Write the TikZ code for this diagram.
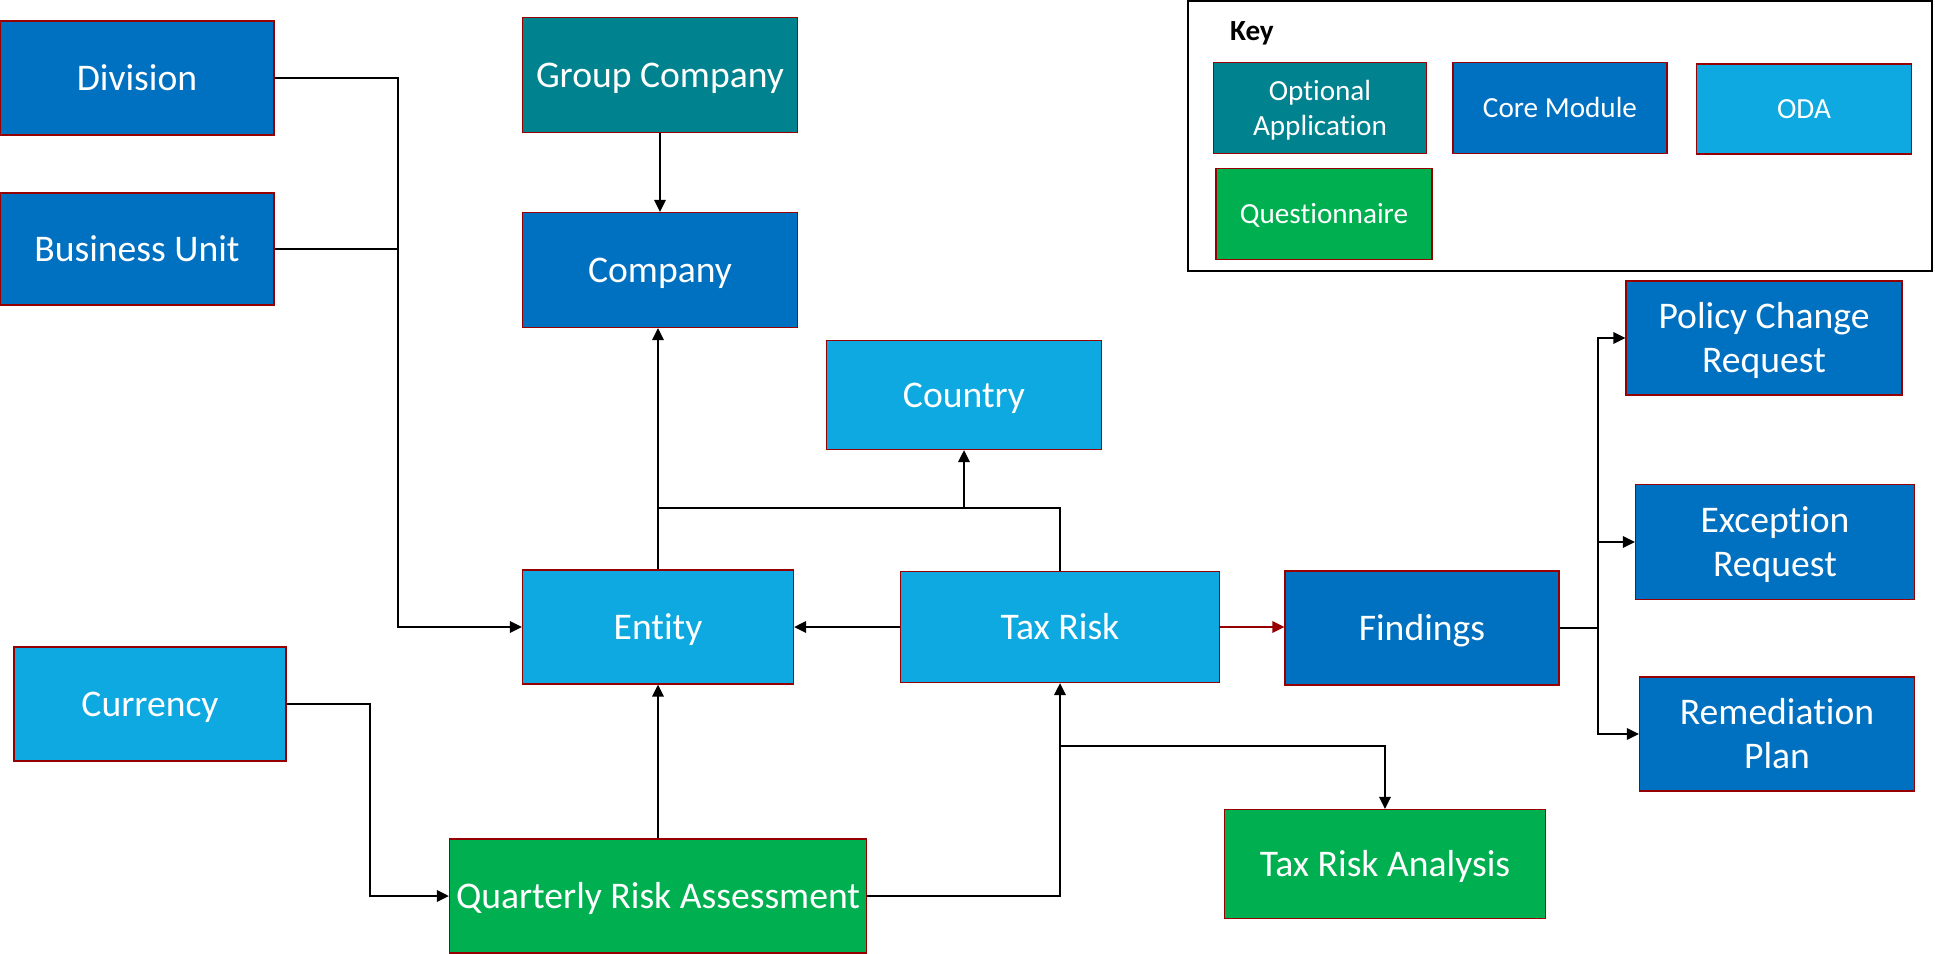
\documentclass[tikz,border=0pt]{standalone}
\usepackage{fontspec}
\setmainfont{Carlito}[Ligatures=NoCommon]
\usetikzlibrary{arrows.meta}
\definecolor{coreblue}{RGB}{0,112,192}
\definecolor{odablue}{RGB}{14,169,224}
\definecolor{optteal}{RGB}{0,130,143}
\definecolor{qgreen}{RGB}{0,176,80}
\definecolor{boxred}{RGB}{150,0,0}
\newcommand{\boxstrut}{\rule[-0.269em]{0pt}{1.221em}}
\newcommand{\topstrut}{\rule{0pt}{0.952em}}
\newcommand{\botstrut}{\rule[-0.269em]{0pt}{0pt}}
\begin{document}
\begin{tikzpicture}[x=0.01cm, y=-0.01cm, >={Triangle[length=3.4pt, width=3.2pt]}, line width=0.6pt,
		boxsize/.style 2 args={minimum width=#1*0.01cm, minimum height=#2*0.01cm},
		box/.style={rectangle, draw=boxred, line width=0.35pt, text=white, align=center, inner sep=0pt, font=\fontsize{10.7}{12.5}\selectfont,
			execute at begin node=\boxstrut, execute at end node=\boxstrut},
		core/.style={box, fill=coreblue},
		oda/.style={box, fill=odablue},
		optional/.style={box, fill=optteal},
		quest/.style={box, fill=qgreen},
		keytext/.style={font=\fontsize{8.3}{9.8}\selectfont}]
			\useasboundingbox (0,0) rectangle (1935,954);
			
			\node[core, boxsize={274}{114}] (division) at (137,78) {Division};
			\node[core, boxsize={274}{112}] (bunit) at (137,249) {Business Unit};
			\node[optional, boxsize={275}{115}] (group) at (660,75) {Group Company};
			\node[core, boxsize={275}{115}] (company) at (660,270) {Company};
			\node[oda, boxsize={275}{109}] (country) at (964,395) {Country};
			\node[oda, boxsize={271}{114}] (entity) at (658,627) {Entity};
			\node[oda, boxsize={319}{111}] (taxrisk) at (1060,627) {Tax Risk};
			\node[core, boxsize={274}{114}] (findings) at (1422,628) {Findings};
			\node[oda, boxsize={272}{114}] (currency) at (150,704) {Currency};
			\node[quest, boxsize={417}{114}] (qra) at (658,896) {Quarterly Risk Assessment};
			\node[quest, boxsize={321}{109}] (tra) at (1385,864) {Tax Risk Analysis};
			
			\node[core, boxsize={276}{114}] (pcr) at (1764,338) {\topstrut Policy Change\\Request\botstrut};
			\node[core, boxsize={279}{115}] (exc) at (1775,542) {\topstrut Exception\\Request\botstrut};
			\node[core, boxsize={275}{114}] (rem) at (1777,734) {\topstrut Remediation\\Plan\botstrut};
			
			\node[draw, line width=0.5pt, boxsize={744}{270}] (key) at (1560,136) {};
			\node[font=\bfseries\fontsize{8.3}{10}\selectfont, anchor=west, inner sep=0pt] (keylabel) at (1229,33) {Key};
			\node[optional, keytext, boxsize={213}{91}] (kopt) at (1320,108) {\topstrut Optional\\Application\botstrut};
			\node[core, keytext, boxsize={214}{91}] (kcore) at (1560,108) {Core Module};
			\node[oda, keytext, boxsize={215}{90}] (koda) at (1804,109) {ODA};
			\node[quest, keytext, boxsize={216}{91}] (kquest) at (1324,214) {Questionnaire};
			
			\draw[->] (division.east) -- ++(123,0) |- (entity.west);
			\draw (bunit.east) -- ++(123,0);
			\draw[->] (group) -- (company);
			\draw[->] (entity.north) -- (entity.north |- company.south);
			\draw[->] (taxrisk.north) -- ++(0,-63) coordinate (tjoin) -| (country.south);
			\draw (tjoin) -- (tjoin -| entity.north);
			\draw[->] (taxrisk.west) -- (taxrisk.west -| entity.east);
			\draw[->, draw=boxred] (taxrisk.east) -- (taxrisk.east -| findings.west);
			
			\foreach \to in {pcr,exc,rem} {
				\draw[->] (findings.east) -- ++(38,0) |- (\to.west);
			}
			
			\draw[->] (currency.east) -- ++(83,0) |- (qra.west);
			\draw[->] (qra.north) -- (entity.south);
			\draw[->] (qra.east) -| (taxrisk.south);
			\path (taxrisk.south) ++(0,63) coordinate (tbranch);
			\draw[->] (tbranch) -| (tra.north);
		\end{tikzpicture}
\end{document}
